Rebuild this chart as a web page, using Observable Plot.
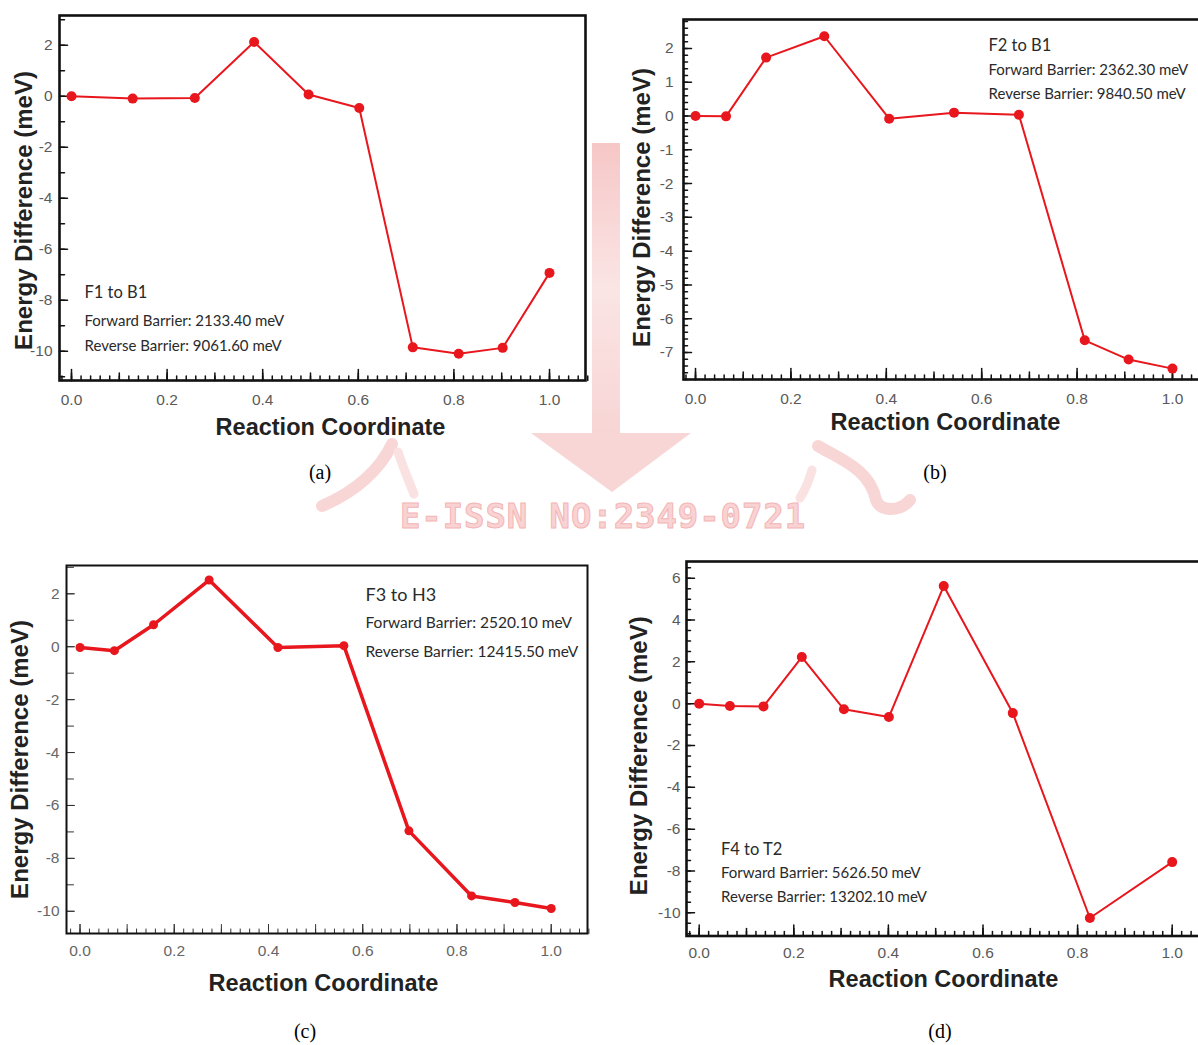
<!DOCTYPE html>
<html>
<head>
<meta charset="utf-8">
<script src="https://cdn.jsdelivr.net/npm/d3@7"></script>
<script src="https://cdn.jsdelivr.net/npm/@observablehq/plot@0.6"></script>
<style>
  body { margin: 0; background: #fff; }
  #page { position: relative; width: 1198px; height: 1045px; overflow: hidden; background: #fff; }
  .panel { position: absolute; }
  .panel svg { overflow: visible; max-width: none !important; background: transparent !important; }
  .cap { position: absolute; font-family: "Liberation Serif", "Times New Roman", serif; font-size: 20px; color: #000; transform: translate(-50%, -50%); white-space: nowrap; }
  .wm { position: absolute; left: 603px; top: 516px; transform: translate(-50%, -50%); font-family: "DejaVu Sans Mono", monospace; font-weight: bold; font-size: 34px; letter-spacing: 0.9px; color: #f9d3d3; -webkit-text-stroke: 1px #f3b6b6; white-space: nowrap; }
  #deco { position: absolute; left: 0; top: 0; opacity: 0.7; }
</style>
</head>
<body>
<div id="page">
  <svg id="deco" width="1198" height="560" aria-hidden="true">
    <defs>
      <linearGradient id="bar" x1="0" y1="0" x2="0" y2="1">
        <stop offset="0" stop-color="#f4b0b0"/>
        <stop offset="0.5" stop-color="#f9dada"/>
        <stop offset="1" stop-color="#f6c4c4"/>
      </linearGradient>
    </defs>
    <rect x="592" y="143" width="28" height="290" fill="url(#bar)"/>
    <polygon points="531,433 691,433 612,492" fill="#f7c6c6"/>
    <path d="M392,444 C380,470 355,492 322,506" fill="none" stroke="#f6c6c6" stroke-width="12" stroke-linecap="round"/>
    <path d="M398,452 C404,470 410,484 414,494" fill="none" stroke="#f9d6d6" stroke-width="9" stroke-linecap="round"/>
    <path d="M818,446 C842,460 870,470 876,500 C880,512 900,512 910,500" fill="none" stroke="#f6c6c6" stroke-width="12" stroke-linecap="round"/>
    <path d="M812,470 C808,484 804,492 800,498" fill="none" stroke="#f9d6d6" stroke-width="9" stroke-linecap="round"/>
  </svg>
</div>
<script>
// ---------------- data ----------------
// (a) F1 to B1
const coordA  = [0, 0.128, 0.258, 0.382, 0.496, 0.602, 0.714, 0.810, 0.902, 1.0];
const energyA = [0, -0.09, -0.07, 2.133, 0.07, -0.46, -9.85, -10.10, -9.87, -6.928];
const notesA  = ["F1 to B1", "Forward Barrier: 2133.40 meV", "Reverse Barrier: 9061.60 meV"];

// (b) F2 to B1
const coordB  = [0, 0.064, 0.148, 0.270, 0.406, 0.542, 0.678, 0.816, 0.908, 1.0];
const energyB = [0, -0.01, 1.73, 2.362, -0.08, 0.10, 0.04, -6.64, -7.21, -7.478];
const notesB  = ["F2 to B1", "Forward Barrier: 2362.30 meV", "Reverse Barrier: 9840.50 meV"];

// (c) F3 to H3
const coordC  = [0, 0.073, 0.156, 0.274, 0.420, 0.560, 0.698, 0.831, 0.923, 1.0];
const energyC = [-0.03, -0.15, 0.83, 2.520, -0.03, 0.04, -6.96, -9.42, -9.67, -9.895];
const notesC  = ["F3 to H3", "Forward Barrier: 2520.10 meV", "Reverse Barrier: 12415.50 meV"];

// (d) F4 to T2
const coordD  = [0, 0.065, 0.136, 0.217, 0.306, 0.401, 0.517, 0.663, 0.826, 1.0];
const energyD = [0, -0.11, -0.13, 2.23, -0.27, -0.64, 5.6265, -0.45, -10.25, -7.5756];
const notesD  = ["F4 to T2", "Forward Barrier: 5626.50 meV", "Reverse Barrier: 13202.10 meV"];

// tick labels
const xTickLabels = [0, 0.2, 0.4, 0.6, 0.8, 1.0];
const yTicksA = [-10, -8, -6, -4, -2, 0, 2];
const yTicksB = [-7, -6, -5, -4, -3, -2, -1, 0, 1, 2];
const yTicksC = [-10, -8, -6, -4, -2, 0, 2];
const yTicksD = [-10, -8, -6, -4, -2, 0, 2, 4, 6];

const xTitle = "Reaction Coordinate";
const yTitle = "Energy Difference (meV)";
const captions = ["(a)", "(b)", "(c)", "(d)"];

// ---------------- drawing ----------------
const RED = "#e8161d";
const step = (a, b, n) => d3.range(Math.round(a * n), Math.round(b * n) + 1).map(i => i / n);

const xMinor = step(-0.02, 1.08, 50);
const xMid = step(0, 1.0, 10);
const xMajor = step(0, 1.0, 5);

// inward tick shapes for vector marks
const tickUp = { draw(c, l) { c.moveTo(0, 0); c.lineTo(0, -l); } };
const tickRight = { draw(c, l) { c.moveTo(0, 0); c.lineTo(l, 0); } };

const panels = [
  { left: 0, top: 0, width: 600, height: 440, mt: 15, ml: 59, mr: 15, mb: 60,
    xDomain: [-0.0251, 1.0753], yDomain: [-11.15, 3.17],
    coord: coordA, energy: energyA, notes: notesA, yTicks: yTicksA, yMinor: step(-11, 3, 1), yMinorLen: 5,
    xPad: 13, yPad: 7, lw: 2, r: 5,
    xT: [271, 47], yT: [-35, 12.5], noteDx: 25, noteDy: [277, 306, 331], noteSize: [16.5, 15], ls: -0.5,
    cap: [320, 472] },
  { left: 600, top: 0, width: 622, height: 440, mt: 19, ml: 83, mr: 10, mb: 61,
    xDomain: [-0.0252, 1.0839], yDomain: [-7.80, 2.858],
    coord: coordB, energy: energyB, notes: notesB, yTicks: yTicksB, yMinor: step(-7.8, 2.8, 5), yMinorLen: 4,
    xPad: 13, yPad: 10, lw: 2, r: 5,
    xT: [262, 43], yT: [-41, 8], noteDx: 305, noteDy: [26, 51, 75], noteSize: [16.5, 15], ls: -0.5,
    cap: [935, 472] },
  { left: 0, top: 540, width: 600, height: 470, mt: 25, ml: 66, mr: 13, mb: 77,
    xDomain: [-0.0287, 1.077], yDomain: [-10.84, 3.07],
    coord: coordC, energy: energyC, notes: notesC, yTicks: yTicksC, yMinor: step(-10, 3, 1), yMinorLen: 7,
    xPad: 11, yPad: 7, lw: 3.5, r: 4.5, light: true,
    xT: [257, 50], yT: [-46, 10], noteDx: 299, noteDy: [30, 58, 87], noteSize: [18, 15.5], ls: -0.8,
    cap: [305, 1031] },
  { left: 600, top: 540, width: 622, height: 470, mt: 21, ml: 86, mr: 10, mb: 74.5,
    xDomain: [-0.0268, 1.0852], yDomain: [-11.11, 6.80],
    coord: coordD, energy: energyD, notes: notesD, yTicks: yTicksD, yMinor: step(-11, 6.5, 2), yMinorLen: 4,
    xPad: 11, yPad: 6, lw: 2, r: 5,
    xT: [257, 43.5], yT: [-47, 7], noteDx: 34.5, noteDy: [288, 312, 336], noteSize: [16.5, 15], ls: -0.5,
    cap: [940, 1031] }
];

const page = document.getElementById("page");

const wm = document.createElement("div");
wm.className = "wm";
wm.textContent = "E-ISSN NO:2349-0721";
page.appendChild(wm);

panels.forEach((p, k) => {
  const rows = p.coord.map((x, i) => ({ x, y: p.energy[i] }));
  const tickColor = p.light ? "#333" : "#111";
  const tw = p.light ? 1 : 1.5;
  const xt = (vals, len) => Plot.vector(vals, { x: d => d, frameAnchor: "bottom", length: len, anchor: "start",
                                                 shape: tickUp, stroke: tickColor, strokeWidth: tw });
  const yt = (vals, len) => Plot.vector(vals, { y: d => d, frameAnchor: "left", length: len, anchor: "start",
                                                 shape: tickRight, stroke: tickColor, strokeWidth: tw });
  const marks = [
    xt(xMinor, 4.5),
    xt(xMid, p.light ? 9 : 7.5),
    xt(xMajor, p.light ? 9 : 11),
    yt(p.yMinor, p.yMinorLen),
    yt(p.yTicks, 8),
    Plot.axisX({ ticks: xTickLabels, tickSize: 0, tickPadding: p.xPad, tickFormat: d3.format(".1f"), label: null,
                 fill: p.light ? "#666" : "#5a5a5a", fontSize: 15.5, fontFamily: "Liberation Sans, Arial, sans-serif" }),
    Plot.axisY({ ticks: p.yTicks, tickSize: 0, tickPadding: p.yPad, tickFormat: d => String(d), label: null,
                 fill: p.light ? "#666" : "#5a5a5a", fontSize: 15.5, fontFamily: "Liberation Sans, Arial, sans-serif" }),
    Plot.frame({ stroke: "#111", strokeWidth: p.light ? 2 : 2.6 }),
    Plot.line(rows, { x: "x", y: "y", stroke: RED, strokeWidth: p.lw, strokeLinejoin: "round" }),
    Plot.dot(rows, { x: "x", y: "y", r: p.r, fill: RED, stroke: "none" }),
    Plot.text([xTitle], { frameAnchor: "bottom-left", text: d => d, dx: p.xT[0], dy: p.xT[1],
                          textAnchor: "middle", lineAnchor: "middle",
                          fontWeight: "bold", fontSize: 23.5, fill: "#222", fontFamily: "Liberation Sans, Arial, sans-serif" }),
    Plot.text([yTitle], { frameAnchor: "left", text: d => d, rotate: -90, dx: p.yT[0], dy: p.yT[1],
                          textAnchor: "middle", lineAnchor: "middle",
                          fontWeight: "bold", fontSize: 24, fill: "#222", fontFamily: "Liberation Sans, Arial, sans-serif" })
  ];
  p.notes.forEach((t, i) => {
    marks.push(Plot.text([t], { frameAnchor: "top-left", text: d => d, textAnchor: "start", lineAnchor: "middle",
      dx: p.noteDx, dy: p.noteDy[i], fontSize: i === 0 ? p.noteSize[0] : p.noteSize[1],
      fill: "#2a2a2a", ariaLabel: "annotation", fontFamily: "Lato, Noto Sans, sans-serif" }));
  });

  const svg = Plot.plot({
    width: p.width, height: p.height,
    marginTop: p.mt, marginLeft: p.ml, marginRight: p.mr, marginBottom: p.mb,
    x: { domain: p.xDomain }, y: { domain: p.yDomain },
    style: { background: "transparent", overflow: "visible", maxWidth: "none" },
    marks
  });
  svg.querySelectorAll('g[aria-label="annotation"] text').forEach(t => t.setAttribute("letter-spacing", String(p.ls)));

  const div = document.createElement("div");
  div.className = "panel";
  div.style.left = p.left + "px";
  div.style.top = p.top + "px";
  div.style.width = p.width + "px";
  div.style.height = p.height + "px";
  div.appendChild(svg);
  page.appendChild(div);

  const cap = document.createElement("div");
  cap.className = "cap";
  cap.style.left = p.cap[0] + "px";
  cap.style.top = p.cap[1] + "px";
  cap.textContent = captions[k];
  page.appendChild(cap);
});
</script>
</body>
</html>
